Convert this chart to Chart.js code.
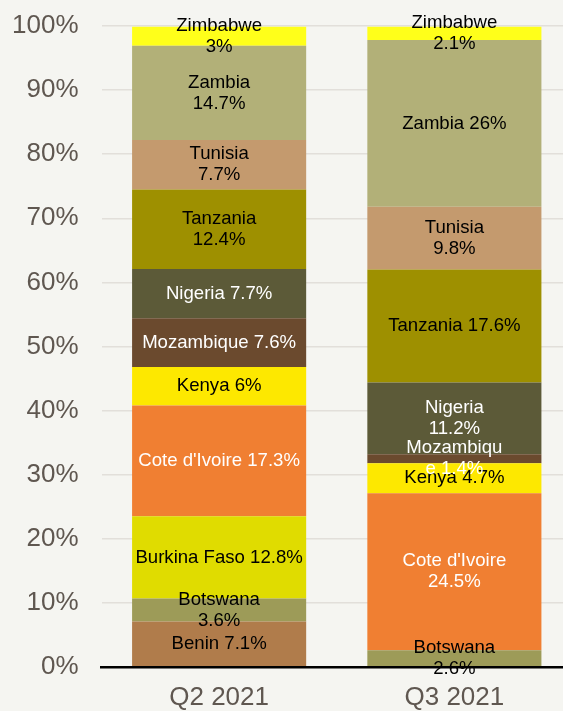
<!DOCTYPE html>
<html>
<head>
<meta charset="utf-8">
<script src="https://cdn.jsdelivr.net/npm/chart.js@4.4.1/dist/chart.umd.min.js"></script>
<style>
  html, body { margin: 0; padding: 0; background: #F5F5F1; overflow: hidden; }
  #wrap { width: 572px; height: 711px; }
</style>
</head>
<body>
<div id="wrap"><canvas id="chart"></canvas></div>
<script>
// ---- data ----
const CATEGORIES = ['Q2 2021', 'Q3 2021'];
const COUNTRIES = ['Benin', 'Botswana', 'Burkina Faso', "Cote d'Ivoire", 'Kenya', 'Mozambique',
  'Nigeria', 'Tanzania', 'Tunisia', 'Zambia', 'Zimbabwe'];
const Q2_VALUES = [7.1, 3.6, 12.8, 17.3, 6, 7.6, 7.7, 12.4, 7.7, 14.7, 3];
const Q3_VALUES = [0, 2.6, 0, 24.5, 4.7, 1.4, 11.2, 17.6, 9.8, 26, 2.1];
const Y_TICKS = [0, 10, 20, 30, 40, 50, 60, 70, 80, 90, 100];

// label text per segment, as the picture wraps it
const Q2_LABELS = ['Benin 7.1%', 'Botswana\n3.6%', 'Burkina Faso 12.8%', "Cote d'Ivoire 17.3%",
  'Kenya 6%', 'Mozambique 7.6%', 'Nigeria 7.7%', 'Tanzania\n12.4%', 'Tunisia\n7.7%',
  'Zambia\n14.7%', 'Zimbabwe\n3%'];
const Q3_LABELS = ['', 'Botswana\n2.6%', '', "Cote d'Ivoire\n24.5%", 'Kenya 4.7%',
  'Mozambiqu\ne 1.4%', 'Nigeria\n11.2%', 'Tanzania 17.6%', 'Tunisia\n9.8%', 'Zambia 26%',
  'Zimbabwe\n2.1%'];

// ---- style ----
const COLORS = ['#B07C4B', '#9D9B58', '#E0DC00', '#F07F32', '#FDE800', '#6B4A2E',
  '#5C5A38', '#9E9000', '#C49A6E', '#B2B078', '#FFFF1A'];
const WHITE_TEXT = ["Cote d'Ivoire", 'Mozambique', 'Nigeria'];
const AXIS_TEXT = '#5F5750';
const GRID = '#E2DFDA';
const FONT = "'Liberation Sans', Arial, sans-serif";

const datasets = COUNTRIES.map(function (name, i) {
  return {
    label: name,
    data: [Q2_VALUES[i], Q3_VALUES[i]],
    labels: [Q2_LABELS[i], Q3_LABELS[i]],
    backgroundColor: COLORS[i],
    borderWidth: 0,
    barPercentage: 0.74,
    categoryPercentage: 1
  };
});

const segmentLabels = {
  id: 'segmentLabels',
  afterDatasetsDraw: function (chart) {
    const ctx = chart.ctx;
    ctx.save();
    ctx.font = '18.6px ' + FONT;
    ctx.textAlign = 'center';
    ctx.textBaseline = 'middle';
    chart.data.datasets.forEach(function (ds, di) {
      const meta = chart.getDatasetMeta(di);
      meta.data.forEach(function (bar, j) {
        const text = ds.labels[j];
        if (!text || !ds.data[j]) return;
        const lines = text.split('\n');
        const cy = (bar.y + bar.base) / 2;
        const lh = 21;
        ctx.fillStyle = WHITE_TEXT.indexOf(ds.label) >= 0 ? '#FFFFFF' : '#000000';
        lines.forEach(function (ln, k) {
          ctx.fillText(ln, bar.x, cy + (k - (lines.length - 1) / 2) * lh);
        });
      });
    });
    ctx.restore();
  }
};

new Chart(document.getElementById('chart'), {
  type: 'bar',
  data: { labels: CATEGORIES, datasets: datasets },
  plugins: [segmentLabels],
  options: {
    responsive: true,
    maintainAspectRatio: false,
    animation: false,
    layout: { padding: { top: 26, left: 0, right: 0, bottom: 0 } },
    plugins: { legend: { display: false }, tooltip: { enabled: false } },
    scales: {
      x: {
        stacked: true,
        grid: { display: false, drawTicks: false },
        border: { display: true, color: '#000000', width: 2.5, z: 1 },
        ticks: { color: AXIS_TEXT, font: { family: FONT, size: 26 }, padding: 15 },
        afterFit: function (s) { s.height = 44; s.paddingLeft = 0; s.paddingRight = 0; }
      },
      y: {
        stacked: true,
        min: 0,
        max: 100,
        afterBuildTicks: function (s) { s.ticks = Y_TICKS.map(function (v) { return { value: v }; }); },
        grid: { color: GRID, lineWidth: 1.5, drawTicks: false },
        border: { display: false },
        ticks: {
          color: AXIS_TEXT,
          font: { family: FONT, size: 26 },
          padding: 23,
          callback: function (v) { return v + '%'; }
        },
        afterFit: function (s) { s.width = 101.5; s.paddingTop = 0; s.paddingBottom = 0; }
      }
    }
  }
});
</script>
</body>
</html>
